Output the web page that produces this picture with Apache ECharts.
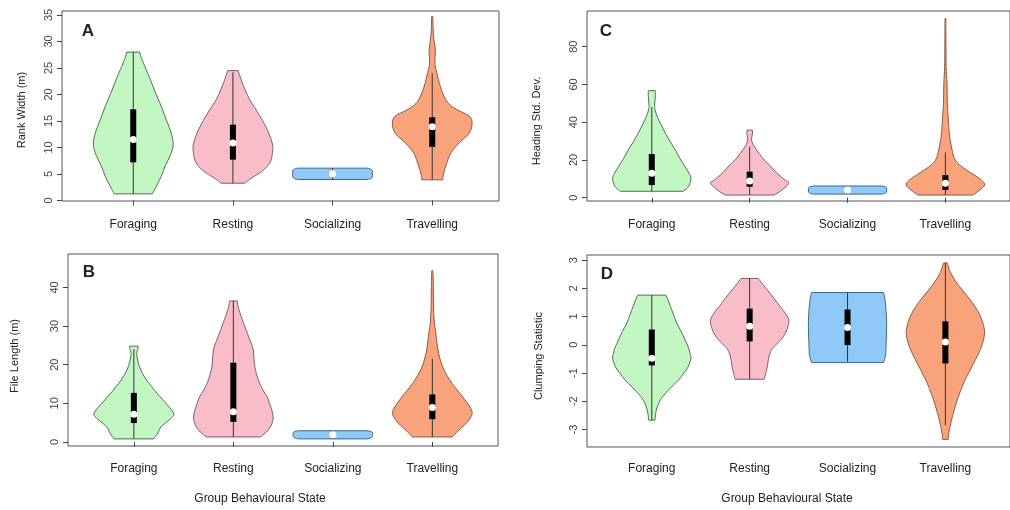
<!DOCTYPE html>
<html>
<head>
<meta charset="utf-8">
<script src="https://cdn.jsdelivr.net/npm/echarts@6/dist/echarts.min.js"></script>
<style>
  html, body { margin: 0; padding: 0; background: #fff; }
  #chart { width: 1010px; height: 510px; }
</style>
</head>
<body>
<div id="chart"></div>
<script>
// categories of group behaviour
const categories = ['Foraging', 'Resting', 'Socializing', 'Travelling'];

// violin outlines: [value, relative half width (1 = widest)]
const rankShapes = [
  [[1.25,0.48],[2.7,0.58],[4.5,0.7],[6.5,0.8],[8.5,0.93],[10.5,1.0],[12.5,0.96],[15.2,0.83],[17.8,0.7],[20.3,0.56],[22.8,0.43],[25.3,0.29],[27,0.2],[28,0.16]],
  [[3.26,0.3],[4.0,0.42],[5.2,0.67],[6.2,0.83],[7.5,0.95],[9.6,1.0],[11.0,0.98],[12.7,0.9],[14.3,0.8],[15.9,0.68],[17.5,0.55],[19.0,0.42],[21,0.3],[22.5,0.22],[24.5,0.13]],
  [[3.95,0.87],[4.1,0.95],[4.4,0.995],[5.0,1.0],[5.65,0.995],[5.95,0.95],[6.1,0.87]],
  [[3.9,0.27],[4.6,0.27],[6.5,0.34],[9,0.47],[10.9,0.68],[12.7,0.93],[14.6,1.0],[15.9,0.93],[17.1,0.63],[18,0.45],[19,0.34],[20.5,0.25],[22.1,0.18],[24,0.12],[25.5,0.07],[27,0.07],[28.4,0.08],[30,0.05],[32,0.025],[34.7,0.015]]
];
const fileShapes = [
  [[0.8,0.5],[2.3,0.6],[3.9,0.68],[5.4,0.85],[6.9,1.0],[8.0,0.97],[9.1,0.88],[10.4,0.77],[11.7,0.66],[13,0.55],[14.3,0.45],[16,0.32],[17.7,0.22],[19.5,0.14],[21,0.1],[22.9,0.07],[24.0,0.1],[24.8,0.11]],
  [[1.3,0.68],[3,0.87],[4.8,0.97],[6.5,1.0],[8.5,0.96],[10,0.91],[11.7,0.85],[13.5,0.74],[16,0.63],[19.4,0.54],[23.8,0.5],[26.3,0.42],[29.8,0.29],[33.3,0.17],[35.5,0.11],[36.5,0.1]],
  [[0.8,0.87],[1.0,0.95],[1.35,0.995],[1.9,1.0],[2.45,0.995],[2.75,0.95],[2.9,0.87]],
  [[1.3,0.5],[2.8,0.64],[4.3,0.8],[5.8,0.93],[7.3,1.0],[8.6,0.97],[10.2,0.87],[11.7,0.76],[13.4,0.63],[15.1,0.5],[17.2,0.37],[19.4,0.26],[22,0.18],[24.6,0.13],[27,0.1],[28.9,0.08],[31,0.05],[35,0.03],[40,0.025],[44.3,0.015]]
];
const headingShapes = [
  [[3.4,0.8],[5,0.9],[6.7,0.96],[10.2,1.0],[13,0.95],[16.4,0.85],[20.8,0.72],[25.3,0.6],[29.7,0.47],[34,0.35],[38.5,0.24],[42.9,0.14],[46,0.09],[48.2,0.07],[51,0.08],[54,0.09],[56.7,0.09]],
  [[1.4,0.62],[4,0.82],[7.6,1.0],[9.4,0.9],[12,0.75],[14.7,0.62],[17.5,0.5],[20,0.37],[23.5,0.24],[27,0.12],[29.5,0.06],[31.5,0.05],[33.5,0.07],[35.8,0.07]],
  [[1.9,0.87],[2.3,0.95],[2.9,0.995],[4.1,1.0],[5.3,0.995],[5.9,0.95],[6.2,0.87]],
  [[1.4,0.7],[4.1,0.88],[6.7,1.0],[9.4,0.92],[12.9,0.67],[16.4,0.42],[20,0.25],[25.3,0.17],[30,0.13],[34,0.1],[42.9,0.07],[50,0.05],[60.6,0.04],[69,0.02],[80,0.015],[95,0.01]]
];
const clumpShapes = [
  [[-2.67,0.08],[-2.43,0.1],[-2.2,0.14],[-1.95,0.22],[-1.72,0.35],[-1.5,0.5],[-1.25,0.68],[-1.0,0.82],[-0.78,0.93],[-0.48,1.0],[-0.31,0.98],[-0.07,0.93],[0.17,0.85],[0.47,0.75],[0.76,0.64],[1.05,0.56],[1.35,0.48],[1.6,0.41],[1.76,0.36]],
  [[-1.22,0.37],[-1.02,0.41],[-0.78,0.45],[-0.43,0.49],[-0.2,0.55],[-0.07,0.62],[0.15,0.78],[0.4,0.91],[0.65,0.98],[0.87,1.0],[1.1,0.92],[1.35,0.78],[1.65,0.62],[1.94,0.45],[2.15,0.33],[2.35,0.22]],
  [[-0.63,0.92],[-0.4,0.97],[-0.19,0.98],[0.2,0.99],[0.64,1.0],[1.1,0.99],[1.58,0.96],[1.85,0.92]],
  [[-3.35,0.07],[-3.02,0.1],[-2.43,0.2],[-1.84,0.33],[-1.25,0.5],[-0.66,0.72],[-0.07,0.92],[0.4,1.0],[0.76,0.96],[1.05,0.88],[1.35,0.76],[1.65,0.6],[1.94,0.43],[2.25,0.26],[2.53,0.14],[2.75,0.08],[2.9,0.05]]
];

// box stats: [lower whisker, q1, median, q3, upper whisker]
const rankBoxes = [[1.25,7.2,11.5,17.2,28],[3.26,7.7,10.85,14.3,24.2],[3.95,4.9,5.05,5.2,6.1],[3.9,10.1,13.9,15.7,24]];
const fileBoxes = [[0.8,4.9,7.2,12.7,24],[1.3,5.2,7.8,20.5,36.5],[0.8,1.8,1.9,2.0,2.9],[1.3,5.9,8.9,12.3,21.5]];
const headingBoxes = [[3.4,6.7,12.9,23.1,48],[1.4,5.8,8.8,13.8,27],[1.9,3.9,4.1,4.3,6.2],[1.4,4.1,7.6,12,24]];
const clumpBoxes = [[-2.67,-0.73,-0.48,0.54,1.76],[-1.22,0.12,0.66,1.28,2.35],[-0.6,-0.01,0.61,1.25,1.85],[-2.85,-0.66,0.1,0.83,2.9]];

// y tick labels
const rankTicks = [0,5,10,15,20,25,30,35];
const fileTicks = [0,10,20,30,40];
const headingTicks = [0,20,40,60,80];
const clumpTicks = [-3,-2,-1,0,1,2,3];

const fills = ['#c2f6c2', '#f9bdc9', '#8ec9f8', '#f9a37c'];
const borders = ['#4f6f4f', '#7d5f66', '#3f6688', '#8a5a45'];
const FONT = 'Liberation Sans, Arial, sans-serif';

const chart = echarts.init(document.getElementById('chart'));

// smooth curve through pixel points (catmull-rom as cubic beziers)
function curveThrough(pts) {
  let d = '';
  for (let i = 0; i < pts.length - 1; i++) {
    const p0 = pts[i - 1] || pts[i];
    const p1 = pts[i];
    const p2 = pts[i + 1];
    const p3 = pts[i + 2] || p2;
    const c1x = p1[0] + (p2[0] - p0[0]) / 6, c1y = p1[1] + (p2[1] - p0[1]) / 6;
    const c2x = p2[0] - (p3[0] - p1[0]) / 6, c2y = p2[1] - (p3[1] - p1[1]) / 6;
    d += ' C' + c1x + ',' + c1y + ' ' + c2x + ',' + c2y + ' ' + p2[0] + ',' + p2[1];
  }
  return d;
}

function violinSeries(idx, shapes, boxes) {
  return {
    type: 'custom',
    xAxisIndex: idx,
    yAxisIndex: idx,
    data: categories.map((c, i) => [i + 1, boxes[i][2]]),
    renderItem(params, api) {
      const i = params.dataIndex;
      const cx = i + 1;
      const shape = shapes[i];
      const right = shape.map(p => api.coord([cx + 0.4 * p[1], p[0]]));
      const left = shape.slice().reverse().map(p => api.coord([cx - 0.4 * p[1], p[0]]));
      const pathData = 'M' + right[0][0] + ',' + right[0][1] + curveThrough(right) +
        ' L' + left[0][0] + ',' + left[0][1] + curveThrough(left) + ' Z';
      const b = boxes[i];
      const lo = api.coord([cx, b[0]]);
      const q1 = api.coord([cx, b[1]]);
      const md = api.coord([cx, b[2]]);
      const q3 = api.coord([cx, b[3]]);
      const hi = api.coord([cx, b[4]]);
      return {
        type: 'group',
        children: [
          { type: 'path', shape: { pathData: pathData },
            style: { fill: fills[i], stroke: borders[i], lineWidth: 1 } },
          { type: 'line', shape: { x1: lo[0], y1: lo[1], x2: hi[0], y2: hi[1] },
            style: { stroke: '#333', lineWidth: 1 } },
          { type: 'rect', shape: { x: q3[0] - 3, y: q3[1], width: 6, height: q1[1] - q3[1] },
            style: { fill: '#000' } },
          { type: 'circle', shape: { cx: md[0], cy: md[1], r: 3.5 },
            style: { fill: '#fff' } }
        ]
      };
    }
  };
}

function xAxis(idx, min, max, margin) {
  return {
    type: 'value', gridIndex: idx, min: min, max: max,
    axisLine: { show: false },
    splitLine: { show: false },
    axisTick: { customValues: [1,2,3,4], length: 5, lineStyle: { color: '#444' } },
    axisLabel: { customValues: [1,2,3,4], margin: margin, fontSize: 12, color: '#222', fontFamily: FONT,
      formatter: v => categories[Math.round(v) - 1] }
  };
}

function yAxis(idx, min, max, ticks) {
  return {
    type: 'value', gridIndex: idx, min: min, max: max,
    axisLine: { show: false },
    splitLine: { show: false },
    axisTick: { customValues: ticks, length: 5, lineStyle: { color: '#444' } },
    axisLabel: { customValues: ticks, rotate: 90, margin: 8, fontSize: 11, color: '#444', fontFamily: FONT }
  };
}

const gridStyle = { show: true, borderColor: '#555', borderWidth: 1, backgroundColor: 'transparent' };

function label(text, x, y, size, bold, rot) {
  return {
    type: 'text', x: x, y: y, rotation: rot || 0,
    style: { text: text, fontSize: size, fontWeight: bold ? 'bold' : 'normal', fill: '#222',
      fontFamily: FONT, align: 'center', verticalAlign: 'middle' }
  };
}

chart.setOption({
  animation: false,
  grid: [
    Object.assign({ left: 62, top: 11, width: 437, height: 190 }, gridStyle),
    Object.assign({ left: 68, top: 254, width: 430, height: 192 }, gridStyle),
    Object.assign({ left: 587, top: 11, width: 429, height: 190 }, gridStyle),
    Object.assign({ left: 587, top: 255, width: 429, height: 192 }, gridStyle)
  ],
  xAxis: [
    xAxis(0, 0.285, 4.67, 18),
    xAxis(1, 0.338, 4.66, 17),
    xAxis(2, 0.338, 4.66, 18),
    xAxis(3, 0.338, 4.66, 16)
  ],
  yAxis: [
    yAxis(0, -0.1, 35.75, rankTicks),
    yAxis(1, -1.04, 48.65, fileTicks),
    yAxis(2, -1.75, 98.9, headingTicks),
    yAxis(3, -3.62, 3.18, clumpTicks)
  ],
  series: [
    violinSeries(0, rankShapes, rankBoxes),
    violinSeries(1, fileShapes, fileBoxes),
    violinSeries(2, headingShapes, headingBoxes),
    violinSeries(3, clumpShapes, clumpBoxes)
  ],
  graphic: [
    label('A', 88, 31, 17, true),
    label('B', 89, 272, 17, true),
    label('C', 606, 31, 17, true),
    label('D', 607, 274, 17, true),
    label('Rank Width (m)', 22, 110, 11, false, Math.PI / 2),
    label('File Length (m)', 15, 356, 11, false, Math.PI / 2),
    label('Heading Std. Dev.', 537, 121, 11, false, Math.PI / 2),
    label('Clumping Statistic', 539, 356, 11, false, Math.PI / 2),
    label('Group Behavioural State', 260, 499, 12, false),
    label('Group Behavioural State', 787, 499, 12, false)
  ]
});
</script>
</body>
</html>
